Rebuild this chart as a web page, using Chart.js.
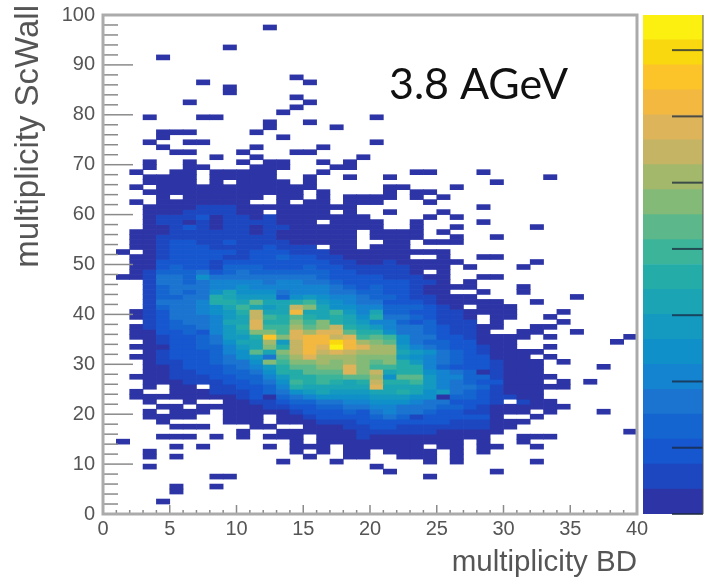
<!DOCTYPE html>
<html>
<head>
<meta charset="utf-8">
<title>multiplicity ScWall vs BD</title>
<script src="https://cdn.jsdelivr.net/npm/chart.js@4"></script>
<style>
  html, body { margin: 0; padding: 0; background: #fff; }
  #wrap { position: relative; width: 707px; height: 584px; overflow: hidden; }
  canvas { position: absolute; top: 0; filter: blur(0.5px); }
  #plot { left: 0; }
  #palette { left: 640px; }
</style>
</head>
<body>
<div id="wrap">
  <canvas id="plot" width="707" height="584"></canvas>
  <canvas id="palette" width="67" height="584"></canvas>
</div>
<script>
// one string per ScWall bin, top row (99) first, one char per BD bin
// "." is an empty bin, otherwise the palette band read off the picture (base 36, 1..k)
const bandRows = [
  "",
  "",
  "............1",
  "",
  "",
  "",
  ".........1",
  "",
  "....1",
  "",
  "",
  "",
  "..............1",
  ".......1.......1",
  ".........1",
  ".........1",
  "..............1",
  "......1........1",
  "..............1",
  ".............1",
  "...1...11...........1",
  "............1..1",
  "............1....1",
  "....111....1",
  "....1........1",
  "...1..11............1",
  "....1......1....1",
  ".....11...1...11",
  "........1..1.......1",
  "...1..1...1.11..1.1.",
  "...1..11...111...11.",
  "..1..11.11111...1......11...1",
  "...1111.11111..1..1..1...........1",
  "...1111.1.1111.1.............1",
  "..1.111111111111.....11...1",
  "...111111111111.1....1.11",
  "....1.111111.11.1.1111.1.1",
  "..1.1111111..1.11.111...1",
  "...1111222111111111.........1",
  "...111222211.1111.1..1...1",
  "...12223122121111111....1.1",
  "...1221212222111.1111..1....1",
  "...112321221221111111..1..1.....1",
  "..11122222212111111.1111.1",
  "..11222222222111111.1111..1..1",
  "..11233223222211111..11.111",
  "..11233322223222.11.111",
  ".1.12333332333222111111111",
  "..112333322334332211111..1..11",
  "..1133332333333332211211111.....1",
  "..113433244433343322222111.1...1",
  "..1244453454444443322221.1",
  ".1125547555555554333322211..11",
  "...25545666656655433333221.1",
  "...2455566766666654343321111...1",
  "...24545797775666554433211..1..1",
  "...24455a9888478766544322111.......1",
  "...25556aa9c99ab87655333211111..1",
  "...2455679b989fd97766444321.111",
  "..12355678af99h99b8694433221111...1",
  "..123555689fbaca9a97a5543221.11..1",
  "...23455699gaadbda9866434222.1....1",
  "..12344568agbbecdfa98655432211..11",
  "..113343689ddbgeggcaa75543221..11..1",
  "..112334588aidghhfgbcb7553321111.1.....1",
  "...123345799e8fhhjhedc754433111.......1",
  "..1113344689dafhgkhgee865433211..1",
  "...12333467c9dfhfgfeee98754321111",
  "..11233345785cegeeeddd8765433111.1",
  "...122334557dbddededcda8654332111.1",
  "...1123334568accddgdbbaa643332111....1",
  "...1122334457aacccgdf9aa765412111",
  "..111222334468aabbcce7cc8664421111",
  "...11122233457baba9afaab865433111.1.1",
  "...1.11.223346a99999g99986554211111",
  "..1..11122234578988899a9785432111",
  "..1111111123145677778887714432211",
  "...1..1..112234455667776553332.211",
  "....11.1111122334455665554432111111",
  "...1.111.11111233343565543322111.1...1",
  "...1111..111.11233334542333331..1",
  "....1....111.1112223333333222111",
  ".....111...11..1112233222222211",
  "..........1..11111122222211111.........1",
  "....111.1.1.111.1112111111111..111",
  ".1............1.11111111111.1..1",
  ".....1.1....1.111.111111.11.11..1",
  "...1..........1.1.11.1111.1.1",
  "...1.1.........1..11..111.1",
  ".............1...1......1.1.....1",
  "...1................1",
  ".....................1.......1",
  "........11..............1",
  "",
  ".....1..1",
  ".....1",
  "",
  "....1",
  "",
  ""
];

// palette bands, bottom to top
const paletteColors = [
  "#2d35a6", "#1c47c0", "#1656cf", "#1565d0", "#1a74d0",
  "#1483d0", "#1090c8", "#149ac0", "#1ba4b4", "#24aca8",
  "#3cb49a", "#5cb88a", "#84ba78", "#a4b86c", "#c4b464",
  "#deb45a", "#f2b840", "#fcc428", "#fad810", "#fbf010"
];
const paletteBandSize = 1.8825;
const paletteTicks = [0, 5, 10, 15, 20, 25, 30, 35];

const xMajorStep = 5;
const yMajorStep = 10;
const frameColor = "#ababab";
const tickColor = "#8a8a8a";
const textColor = "#555555";

function buildRowDatasets() {
  return bandRows.map((row, index) => {
    const yBin = bandRows.length - 1 - index;
    const data = [];
    const colors = [];
    row.split("").forEach((ch, xBin) => {
      if (ch === ".") return;
      data.push({ x: xBin + 0.5, y: [yBin, yBin + 1] });
      colors.push(paletteColors[parseInt(ch, 36) - 1]);
    });
    return {
      data: data,
      backgroundColor: colors,
      barPercentage: 1,
      categoryPercentage: 1,
      grouped: false,
      borderWidth: 0,
    };
  });
}

// ROOT style frame with inward ticks
const frameTicks = {
  id: "frameTicks",
  afterDraw(chart) {
    const { ctx, chartArea, scales } = chart;
    ctx.save();
    ctx.strokeStyle = tickColor;
    ctx.lineWidth = 1.5;
    for (let v = 0; v <= 100; v += 2) {
      const y = scales.y.getPixelForValue(v);
      const len = v % yMajorStep === 0 ? 30 : 15;
      ctx.beginPath();
      ctx.moveTo(chartArea.left, y);
      ctx.lineTo(chartArea.left + len, y);
      ctx.stroke();
    }
    for (let v = 0; v <= 40; v += 1) {
      const x = scales.x.getPixelForValue(v);
      const len = v % xMajorStep === 0 ? 9 : 4;
      ctx.beginPath();
      ctx.moveTo(x, chartArea.bottom);
      ctx.lineTo(x, chartArea.bottom - len);
      ctx.stroke();
    }
    ctx.strokeStyle = frameColor;
    ctx.lineWidth = 3;
    ctx.strokeRect(chartArea.left, chartArea.top, chartArea.width, chartArea.height);

    ctx.fillStyle = textColor;
    ctx.font = "33px 'Liberation Sans'";
    ctx.textAlign = "right";
    ctx.textBaseline = "middle";
    ctx.translate(29, 5);
    ctx.rotate(-Math.PI / 2);
    ctx.fillText("multiplicity ScWall", 0, 0);
    ctx.restore();

    ctx.save();
    ctx.fillStyle = "#111111";
    ctx.font = "43px Lato";
    ctx.textAlign = "left";
    ctx.textBaseline = "alphabetic";
    ctx.fillText("3.8 AGeV", 389, 99);
    ctx.restore();
  },
};

new Chart(document.getElementById("plot"), {
  type: "bar",
  data: { datasets: buildRowDatasets() },
  plugins: [frameTicks],
  options: {
    responsive: false,
    animation: false,
    devicePixelRatio: 1,
    layout: { padding: { top: 15, right: 70, left: 0, bottom: 0 } },
    plugins: { legend: { display: false }, tooltip: { enabled: false } },
    scales: {
      x: {
        type: "linear",
        min: 0,
        max: 40,
        offset: false,
        afterFit: (scale) => {
          scale.height = 70;
          scale.paddingLeft = 0;
          scale.paddingRight = 0;
        },
        grid: { display: false, drawTicks: false },
        border: { display: false },
        ticks: {
          stepSize: xMajorStep,
          autoSkip: false,
          maxRotation: 0,
          padding: 3,
          color: textColor,
          font: { family: "'Liberation Sans'", size: 20 },
        },
        title: {
          display: true,
          text: "multiplicity BD",
          align: "end",
          color: textColor,
          padding: { top: 0, bottom: 3 },
          font: { family: "'Liberation Sans'", size: 29.5 },
        },
      },
      y: {
        min: 0,
        max: 100,
        afterFit: (scale) => {
          scale.width = 103;
          scale.paddingTop = 0;
          scale.paddingBottom = 0;
        },
        grid: { display: false, drawTicks: false },
        border: { display: false },
        ticks: {
          stepSize: yMajorStep,
          padding: 8,
          color: textColor,
          font: { family: "'Liberation Sans'", size: 20 },
        },
      },
    },
  },
});

const paletteTickMarks = {
  id: "paletteTickMarks",
  afterDraw(chart) {
    const { ctx, chartArea, scales } = chart;
    ctx.save();
    ctx.strokeStyle = "rgba(25,40,60,0.75)";
    ctx.lineWidth = 2;
    paletteTicks.forEach((v) => {
      const y = scales.y.getPixelForValue(v);
      ctx.beginPath();
      ctx.moveTo(chartArea.right - 31, y);
      ctx.lineTo(chartArea.right, y);
      ctx.stroke();
    });
    ctx.strokeStyle = "#555555";
    ctx.lineWidth = 1;
    ctx.beginPath();
    ctx.moveTo(chartArea.right, chartArea.top);
    ctx.lineTo(chartArea.right, chartArea.bottom);
    ctx.stroke();
    ctx.restore();
  },
};

new Chart(document.getElementById("palette"), {
  type: "bar",
  data: {
    labels: ["z"],
    datasets: paletteColors.map((color) => ({
      data: [paletteBandSize],
      backgroundColor: color,
      barPercentage: 1,
      categoryPercentage: 1,
      borderWidth: 0,
    })),
  },
  plugins: [paletteTickMarks],
  options: {
    responsive: false,
    animation: false,
    devicePixelRatio: 1,
    layout: { padding: { top: 15, right: 4, left: 3, bottom: 70 } },
    plugins: { legend: { display: false }, tooltip: { enabled: false } },
    scales: {
      x: { stacked: true, display: false },
      y: { stacked: true, display: false, min: 0, max: 37.65 },
    },
  },
});
</script>
</body>
</html>
